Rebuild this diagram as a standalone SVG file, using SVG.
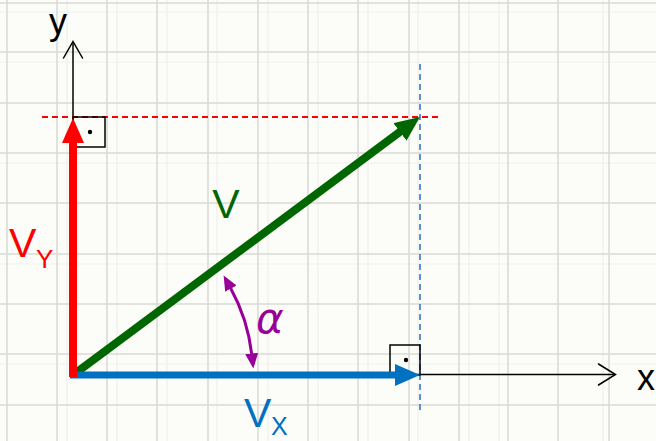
<svg xmlns="http://www.w3.org/2000/svg" width="656" height="441" viewBox="0 0 656 441">
<style>
.grid{stroke:#dadad6;stroke-width:1.6}
.gridf{stroke:#efefeb;stroke-width:1.2}
.axis{stroke:#000;stroke-width:1.5;fill:none}
.chev{stroke:#000;stroke-width:1.5;fill:none;stroke-linecap:round;stroke-linejoin:miter}
.box{stroke:#000;stroke-width:1.5;fill:none}
.lbl{font-family:"Liberation Sans",Arial,sans-serif}
</style>
<defs>
<marker id="ahR" markerUnits="userSpaceOnUse" markerWidth="26" markerHeight="24" refX="1" refY="11" orient="auto" viewBox="0 0 26 24"><path d="M0,0 L25,11 L0,22 z" fill="#ff0000"/></marker>
<marker id="ahG" markerUnits="userSpaceOnUse" markerWidth="26" markerHeight="24" refX="1" refY="11" orient="auto" viewBox="0 0 26 24"><path d="M0,0 L25,11 L0,22 z" fill="#006600"/></marker>
<marker id="ahB" markerUnits="userSpaceOnUse" markerWidth="26" markerHeight="24" refX="1" refY="11" orient="auto" viewBox="0 0 26 24"><path d="M0,0 L25,11 L0,22 z" fill="#0070c0"/></marker>
<marker id="ahP" markerUnits="userSpaceOnUse" markerWidth="16" markerHeight="14" refX="1" refY="6.5" orient="auto-start-reverse" viewBox="0 0 16 14"><path d="M0,0 L15,6.5 L0,13 z" fill="#990099"/></marker>
</defs>
<rect width="656" height="441" fill="#fcfcf8"/>
<g id="grid">
<g class="gridf">
<line x1="67" y1="0" x2="67" y2="441"/><line x1="117" y1="0" x2="117" y2="441"/><line x1="167" y1="0" x2="167" y2="441"/><line x1="217" y1="0" x2="217" y2="441"/><line x1="268" y1="0" x2="268" y2="441"/><line x1="318" y1="0" x2="318" y2="441"/><line x1="368" y1="0" x2="368" y2="441"/><line x1="418" y1="0" x2="418" y2="441"/><line x1="469" y1="0" x2="469" y2="441"/><line x1="499" y1="0" x2="499" y2="441"/><line x1="603" y1="0" x2="603" y2="441"/>
<line x1="0" y1="12" x2="656" y2="12"/><line x1="0" y1="62" x2="656" y2="62"/><line x1="0" y1="163" x2="656" y2="163"/><line x1="0" y1="264" x2="656" y2="264"/><line x1="0" y1="364" x2="656" y2="364"/>
</g>
<g class="grid">
<line x1="7" y1="0" x2="7" y2="441"/><line x1="57" y1="0" x2="57" y2="441"/><line x1="107" y1="0" x2="107" y2="441"/><line x1="157" y1="0" x2="157" y2="441"/><line x1="208" y1="0" x2="208" y2="441"/><line x1="258" y1="0" x2="258" y2="441"/><line x1="308" y1="0" x2="308" y2="441"/><line x1="358" y1="0" x2="358" y2="441"/><line x1="409" y1="0" x2="409" y2="441"/><line x1="459" y1="0" x2="459" y2="441"/><line x1="508" y1="0" x2="508" y2="441"/><line x1="558" y1="0" x2="558" y2="441"/><line x1="609" y1="0" x2="609" y2="441"/>
<line x1="0" y1="3" x2="656" y2="3"/><line x1="0" y1="52" x2="656" y2="52"/><line x1="0" y1="103" x2="656" y2="103"/><line x1="0" y1="153" x2="656" y2="153"/><line x1="0" y1="203" x2="656" y2="203"/><line x1="0" y1="254" x2="656" y2="254"/><line x1="0" y1="304" x2="656" y2="304"/><line x1="0" y1="354" x2="656" y2="354"/><line x1="0" y1="405" x2="656" y2="405"/>
</g>
</g>
<g id="connectors">
<line class="axis" x1="73" y1="375" x2="73" y2="42"/>
<polyline class="chev" points="63.5,58 73,41.5 82.5,58"/>
<line class="axis" x1="73" y1="374.5" x2="615" y2="374.5"/>
<polyline class="chev" points="598.5,364 615.5,374.5 598.5,385"/>
<line x1="42" y1="117" x2="438" y2="117" stroke="#ff0000" stroke-width="1.8" stroke-dasharray="6 4"/>
<line x1="420" y1="64" x2="420" y2="410" stroke="#4a86d0" stroke-width="1.8" stroke-dasharray="6 4"/>
<path d="M230.4,287.7 A180,180 0 0 1 251.8,354.6" fill="none" stroke="#990099" stroke-width="3" marker-start="url(#ahP)" marker-end="url(#ahP)"/>
</g>
<g id="right-angle-top"><rect class="box" x="73" y="117" width="32" height="30"/><circle cx="90" cy="132" r="2.2"/></g>
<g id="right-angle-bottom"><rect class="box" x="390" y="345" width="30" height="30"/><circle cx="406" cy="360" r="2.2"/></g>
<g id="vector-V"><line x1="73" y1="375" x2="400.7" y2="131.3" stroke="#006600" stroke-width="8" marker-end="url(#ahG)"/></g>
<g id="vector-Vx"><line x1="70" y1="375" x2="396" y2="375" stroke="#0070c0" stroke-width="7" marker-end="url(#ahB)"/></g>
<g id="vector-Vy"><line x1="73" y1="377" x2="73" y2="142" stroke="#ff0000" stroke-width="8" marker-end="url(#ahR)"/></g>
<g id="labels" class="lbl">
<text x="58" y="33.5" font-size="36" text-anchor="middle" fill="#000">y</text>
<text x="637" y="390" font-size="36" fill="#000">x</text>
<text x="226" y="218" font-size="41" text-anchor="middle" fill="#006600">V</text>
<text x="9" y="257" font-size="41" fill="#ff0000">V<tspan x="36" y="268" font-size="26">Y</tspan></text>
<text x="244" y="427" font-size="41" fill="#0070c0">V<tspan x="271" y="435" font-size="25">X</tspan></text>
<text x="256" y="333" font-size="42" font-style="italic" fill="#990099" font-family="DejaVu Sans,sans-serif">α</text>
</g>
</svg>
